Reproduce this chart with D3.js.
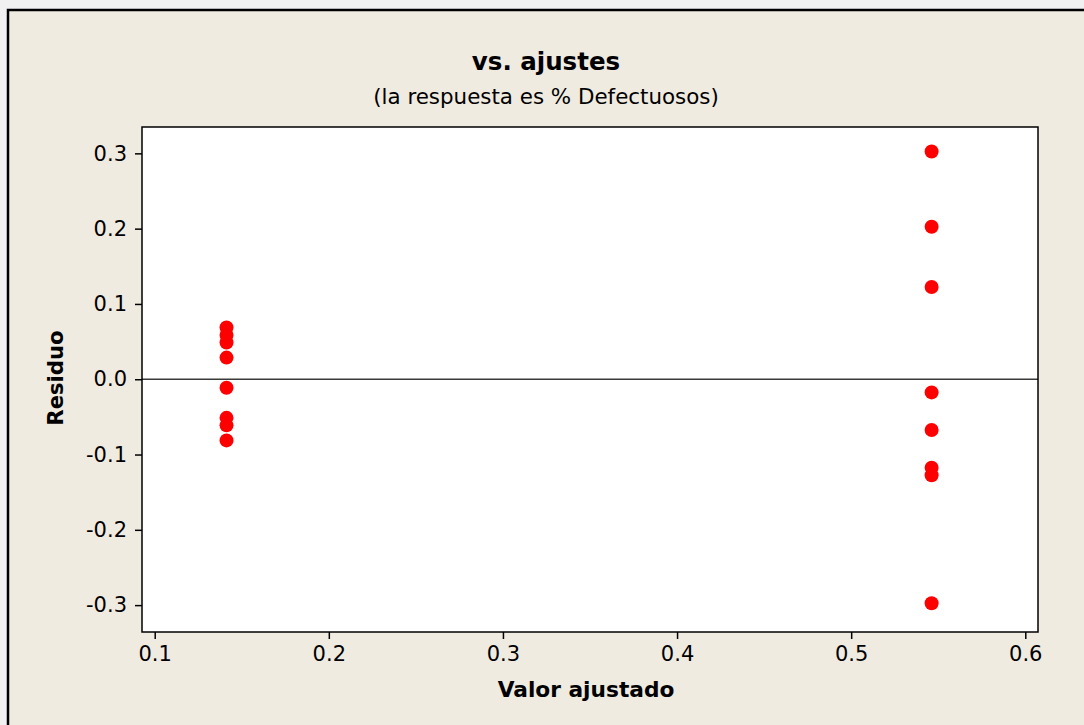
<!DOCTYPE html>
<html><head><meta charset="utf-8">
<script src="https://cdn.jsdelivr.net/npm/d3@7"></script>
<style>
html,body{margin:0;padding:0;background:#f1f1f1;}
svg{display:block;}
</style></head>
<body>
<script>
// Data
const fittedLeft = 0.14125;
const fittedRight = 0.5462;
const residLeft = [0.06875, 0.05875, 0.04875, 0.02875, -0.01125, -0.05125, -0.06125, -0.08125];
const residRight = [0.3025, 0.2025, 0.1225, -0.0175, -0.0675, -0.1175, -0.1275, -0.2975];
const xTicks = [0.1, 0.2, 0.3, 0.4, 0.5, 0.6];
const yTicks = [-0.3, -0.2, -0.1, 0.0, 0.1, 0.2, 0.3];
const title = "vs. ajustes";
const subtitle = "(la respuesta es % Defectuosos)";
const xTitle = "Valor ajustado";
const yTitle = "Residuo";

const points = residLeft.map(r => ({x: fittedLeft, y: r}))
  .concat(residRight.map(r => ({x: fittedRight, y: r})));

const W = 1084, H = 725;
const svg = d3.select("body").append("svg").attr("width", W).attr("height", H);

// outer frame
svg.append("rect").attr("x", 0).attr("y", 0).attr("width", W).attr("height", 9).attr("fill", "#f1f1f1");
svg.append("rect").attr("x", 8).attr("y", 10).attr("width", W + 10).attr("height", H + 10)
  .attr("fill", "#efebe1").attr("stroke", "#000").attr("stroke-width", 2.5);

const L = 142, R = 1038, T = 127, B = 632;
const x = d3.scaleLinear().domain([0.0927, 0.6073]).range([L, R]);
const y = d3.scaleLinear().domain([-0.3357, 0.3350]).range([B, T]);

svg.append("rect").attr("x", L).attr("y", T).attr("width", R - L).attr("height", B - T)
  .attr("fill", "#fff");

const font = "DejaVu Sans, Verdana, sans-serif";

// axes
const xAxis = svg.append("g").attr("transform", `translate(0,${B})`)
  .call(d3.axisBottom(x).tickValues(xTicks).tickFormat(d3.format(".1f")).tickSizeOuter(0).tickSizeInner(7).tickPadding(7));
const yAxis = svg.append("g").attr("transform", `translate(${L},0)`)
  .call(d3.axisLeft(y).tickValues(yTicks).tickFormat(d3.format(".1f")).tickSizeOuter(0).tickSizeInner(7).tickPadding(8));
[xAxis, yAxis].forEach(g => {
  g.select(".domain").remove();
  g.selectAll(".tick line").attr("stroke", "#000").attr("stroke-width", 1.5);
  g.selectAll(".tick text").attr("font-family", font).attr("font-size", 21).attr("fill", "#000");
});
yAxis.selectAll(".tick text").text(d => d3.format(".1f")(d).replace("−", "-"));

// zero line
svg.append("line").attr("x1", L).attr("x2", R).attr("y1", y(0)).attr("y2", y(0))
  .attr("stroke", "#3a3a3a").attr("stroke-width", 1.5);

// plot border
svg.append("rect").attr("x", L).attr("y", T).attr("width", R - L).attr("height", B - T)
  .attr("fill", "none").attr("stroke", "#000").attr("stroke-width", 1.5);

// points
svg.append("g").selectAll("circle").data(points).join("circle")
  .attr("cx", d => x(d.x)).attr("cy", d => y(d.y)).attr("r", 7).attr("fill", "#ff0000");

// titles
svg.append("text").attr("x", 546).attr("y", 70).attr("text-anchor", "middle")
  .attr("font-family", font).attr("font-weight", "bold").attr("font-size", 24.5).text(title);
svg.append("text").attr("x", 546).attr("y", 104).attr("text-anchor", "middle")
  .attr("font-family", font).attr("font-size", 21.4).text(subtitle);
svg.append("text").attr("x", 586).attr("y", 697).attr("text-anchor", "middle")
  .attr("font-family", font).attr("font-weight", "bold").attr("font-size", 21.7).text(xTitle);
svg.append("text").attr("transform", "translate(63,378) rotate(-90)").attr("text-anchor", "middle")
  .attr("font-family", font).attr("font-weight", "bold").attr("font-size", 21.2).text(yTitle);
</script>
</body></html>
